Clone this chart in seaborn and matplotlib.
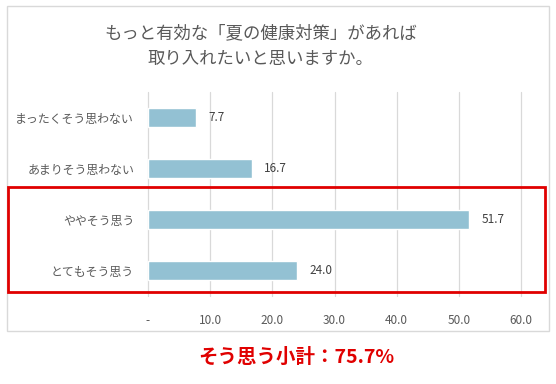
import matplotlib.pyplot as plt
import matplotlib.patches as mpatches
import pandas as pd
import seaborn as sns

categories = ["まったくそう思わない", "あまりそう思わない", "ややそう思う", "とてもそう思う"]
values = [7.7, 16.7, 51.7, 24.0]
tick_values = [0, 10, 20, 30, 40, 50, 60]
tick_labels = ["-", "10.0", "20.0", "30.0", "40.0", "50.0", "60.0"]
title = "もっと有効な「夏の健康対策」があれば\n取り入れたいと思いますか。"
subtotal = "そう思う小計：75.7%"

sns.set_theme(style="white")
plt.rcParams["font.family"] = ["Noto Sans CJK JP", "DejaVu Sans"]

df = pd.DataFrame({"category": categories, "value": values})

fig = plt.figure(figsize=(5.56, 3.84), dpi=100)
ax = fig.add_axes([148 / 556, 1 - 296 / 384, (521 - 148) / 556, 204 / 384])

sns.barplot(data=df, x="value", y="category", order=categories,
            color="#93c1d3", saturation=1, width=0.36, ax=ax)

ax.set_xlim(0, 60)
ax.set_xticks(tick_values)
ax.set_xticklabels(tick_labels, fontsize=8.5, color="#595959")
ax.tick_params(axis="x", length=0, pad=13)
ax.tick_params(axis="y", length=0, pad=10, labelsize=8.6, labelcolor="#595959")
ax.set_xlabel("")
ax.set_ylabel("")
ax.grid(axis="x", color="#d9d9d9", linewidth=0.9)
for gl in ax.get_xgridlines():
    gl.set_clip_on(False)
ax.set_axisbelow(True)
for s in ax.spines.values():
    s.set_visible(False)

for i, v in enumerate(values):
    ax.text(v + 2.0, i, f"{v:.1f}", va="center", ha="left",
            fontsize=8.5, color="#404040")

# chart frame and title
fig.patches.append(mpatches.Rectangle((7 / 556, 1 - 331 / 384), 542 / 556, 325 / 384,
                                      transform=fig.transFigure, fill=False,
                                      edgecolor="#d9d9d9", linewidth=1))
fig.text(0.469, 1 - 46 / 384, title, ha="center", va="center",
         fontsize=12.5, color="#595959", linespacing=1.55)

# red highlight box
fig.patches.append(mpatches.Rectangle((8 / 556, 1 - 292 / 384), 537 / 556, 105 / 384,
                                      transform=fig.transFigure, fill=False,
                                      edgecolor="#e00000", linewidth=2))
fig.text(296 / 556, 1 - 357 / 384, subtotal, ha="center", va="center",
         fontsize=14, fontweight="bold", color="#e00000")

fig.savefig("out.png", dpi=100)
